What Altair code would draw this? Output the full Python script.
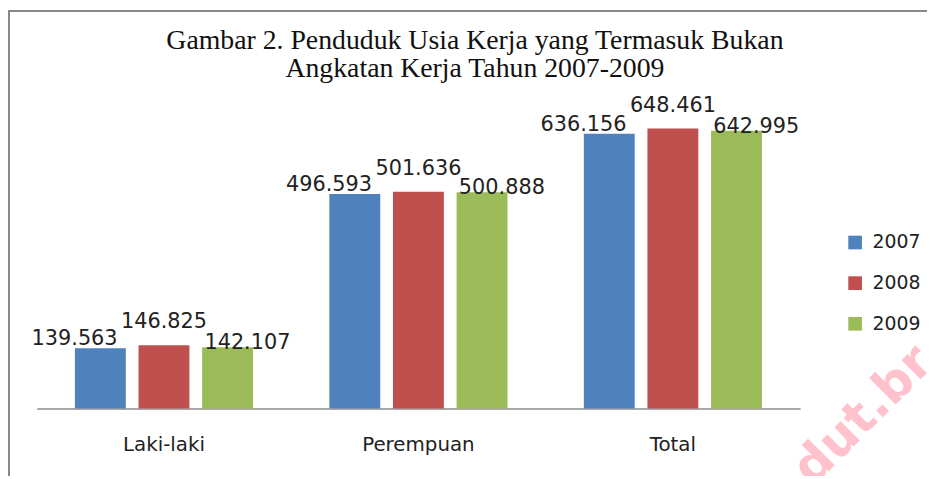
import altair as alt
import pandas as pd

categories = ["Laki-laki", "Perempuan", "Total"]
years = ["2007", "2008", "2009"]
v2007 = [139.563, 496.593, 636.156]
v2008 = [146.825, 501.636, 648.461]
v2009 = [142.107, 500.888, 642.995]
colors = ["#4F81BD", "#C0504D", "#9BBB59"]
title_lines = ["Gambar 2. Penduduk Usia Kerja yang Termasuk Bukan",
               "Angkatan Kerja Tahun 2007-2009"]

rows = []
for yr, vals in zip(years, [v2007, v2008, v2009]):
    for c, v in zip(categories, vals):
        rows.append({"kategori": c, "tahun": yr, "nilai": v, "label": f"{v:.3f}"})
df = pd.DataFrame(rows)

x = alt.X("kategori:N", sort=categories, title=None,
          scale=alt.Scale(paddingInner=0, paddingOuter=0),
          axis=alt.Axis(domain=True, domainColor="#8c8c8c", domainWidth=1.5,
                        ticks=False, labelAngle=0, labelPadding=26,
                        labelFont="DejaVu Sans", labelFontSize=20, labelColor="#222"))
xo = alt.XOffset("tahun:N", sort=years,
                 scale=alt.Scale(paddingInner=0.2, paddingOuter=0.6))
y = alt.Y("nilai:Q", scale=alt.Scale(domain=[0, 700]), axis=None)
color = alt.Color("tahun:N", sort=years,
                  scale=alt.Scale(domain=years, range=colors),
                  legend=alt.Legend(title=None, orient="none", legendX=816, legendY=128,
                                    symbolType="square", symbolSize=190,
                                    symbolStrokeWidth=0, labelFont="DejaVu Sans",
                                    labelFontSize=19, labelColor="#222",
                                    rowPadding=21, labelOffset=8))

base = alt.Chart(df)
bars = base.mark_bar().encode(x=x, xOffset=xo, y=y, color=color)

shifts = {"2007": (-26, -9), "2008": (0, -23), "2009": (20, -4)}
text_layers = []
for yr in years:
    dx, dy = shifts[yr]
    text_layers.append(
        base.transform_filter(alt.datum.tahun == yr).mark_text(
            font="DejaVu Sans", fontSize=21, color="#222", baseline="middle",
            dx=dx, dy=dy
        ).encode(x=x, xOffset=xo, y=y, text="label:N")
    )

title_df = pd.DataFrame({"t": title_lines, "i": [0, 1]})
title_layers = []
for i, ypos in [(0, -58), (1, -29)]:
    title_layers.append(
        alt.Chart(title_df).transform_filter(alt.datum.i == i).mark_text(
            font="Liberation Serif", fontSize=28, color="#111",
            align="center", baseline="alphabetic"
        ).encode(x=alt.value(442), y=alt.value(ypos), text="t:N")
    )

border = alt.Chart(pd.DataFrame({"a": [0]})).mark_rect(
    fill=None, stroke="#888888", strokeWidth=2
).encode(x=alt.value(-28), x2=alt.value(1000), y=alt.value(-96), y2=alt.value(400))

watermark = alt.Chart(pd.DataFrame({"w": ["dut.br"]})).mark_text(
    font="DejaVu Sans", fontSize=50, fontWeight="bold", color="#ffc2cc",
    angle=315, align="left", baseline="middle"
).encode(x=alt.value(772), y=alt.value(374), text="w:N")

chart = alt.layer(bars, *text_layers, *title_layers, watermark, border).properties(
    width=770, height=305,
    padding={"left": 29, "top": 97, "right": 128, "bottom": 66},
    autosize=alt.AutoSizeParams(type="none"),
).configure(background="white").configure_view(stroke=None, strokeWidth=0)

chart.save("out.html", embed_options={"renderer": "svg", "actions": False})
